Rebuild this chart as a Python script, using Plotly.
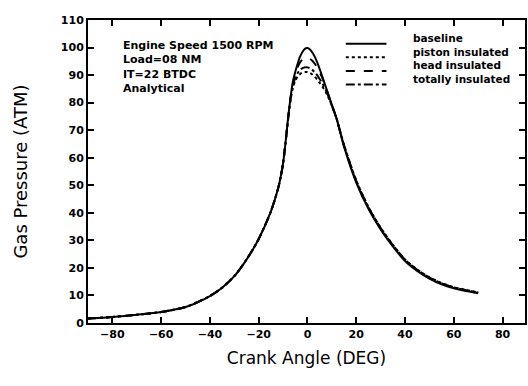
import plotly.graph_objects as go

angle = [-90, -80, -70, -60, -50, -40, -35, -30, -25, -20, -15, -12, -11, -10, -9, -8, -7, -6, -5, -4, -3, -2, -1,
         0, 1, 2, 3, 4, 5, 6, 8, 10, 12, 15, 20, 25, 30, 35, 40, 45, 50, 55, 60, 65, 70]

baseline = [1.6, 2.2, 3.0, 4.0, 5.8, 9.8, 12.8, 17.0, 23.0, 30.5, 40.5, 49.0, 53.0, 58.0, 65.5, 74.0, 81.5, 87.5, 91.2, 94.2, 96.8, 98.5, 99.6,
            99.8, 99.3, 98.2, 96.6, 94.6, 92.2, 89.6, 84.5, 79.2, 74.0, 64.0, 51.0, 41.5, 34.0, 27.8, 22.5, 18.9, 16.1, 14.0, 12.6, 11.6, 10.8]

piston_insulated = [1.6, 2.2, 3.0, 4.0, 5.8, 9.8, 12.8, 17.0, 23.0, 30.5, 40.5, 49.0, 53.0, 58.0, 65.3, 73.6, 80.6, 85.3, 88.0, 89.5, 90.4, 90.9, 91.1,
                    91.1, 90.8, 90.2, 89.4, 88.4, 87.2, 86.0, 83.0, 78.8, 74.0, 64.6, 51.8, 42.1, 34.6, 28.4, 23.1, 19.4, 16.6, 14.5, 13.0, 12.0, 11.1]

head_insulated = [1.6, 2.2, 3.0, 4.0, 5.8, 9.8, 12.8, 17.0, 23.0, 30.5, 40.5, 49.0, 53.0, 58.0, 65.5, 73.8, 81.3, 87.0, 90.5, 93.0, 94.7, 95.7, 96.1,
                  96.2, 95.9, 95.2, 94.1, 92.6, 90.9, 89.2, 84.2, 79.2, 74.0, 64.3, 51.4, 41.8, 34.3, 28.1, 22.8, 19.2, 16.4, 14.3, 12.8, 11.8, 11.0]

totally_insulated = [1.6, 2.2, 3.0, 4.0, 5.8, 9.8, 12.8, 17.0, 23.0, 30.5, 40.5, 49.0, 53.0, 58.0, 65.4, 73.7, 81.0, 86.0, 89.0, 90.8, 91.9, 92.5, 92.8,
                     92.8, 92.5, 91.9, 91.0, 89.9, 88.6, 87.2, 83.6, 79.0, 74.0, 64.5, 51.6, 42.0, 34.5, 28.3, 23.0, 19.3, 16.5, 14.4, 12.9, 11.9, 11.1]

series_names = ["baseline", "piston insulated", "head insulated", "totally insulated"]
series_values = [baseline, piston_insulated, head_insulated, totally_insulated]
series_dash = ["solid", "dot", "dash", "dashdot"]

x_ticks = [-80, -60, -40, -20, 0, 20, 40, 60, 80]
y_ticks = [0, 10, 20, 30, 40, 50, 60, 70, 80, 90, 100, 110]

annotation_lines = ["Engine Speed 1500 RPM", "Load=08 NM", "IT=22 BTDC", "Analytical"]

# legend layout (paper coordinates)
LEG_LINE_X0, LEG_LINE_X1, LEG_TEXT_X = 0.59, 0.683, 0.74
LEG_TOP, LEG_STEP = 0.94, 0.045

fig = go.Figure()
for name, vals, dash in zip(series_names, series_values, series_dash):
    fig.add_trace(go.Scatter(x=angle, y=vals, mode="lines", name=name, showlegend=False,
                             line=dict(color="black", width=2, dash=dash, shape="spline", smoothing=0.7)))

shapes = []
annotations = []
for i, (name, dash) in enumerate(zip(series_names, series_dash)):
    yy = LEG_TOP - i * LEG_STEP
    shapes.append(dict(type="line", xref="paper", yref="paper", x0=LEG_LINE_X0, x1=LEG_LINE_X1,
                       y0=yy - 0.018, y1=yy - 0.018, line=dict(color="black", width=2, dash=dash)))
    annotations.append(dict(xref="paper", yref="paper", x=LEG_TEXT_X, y=yy, xanchor="left", yanchor="middle",
                            showarrow=False, text=name,
                            font=dict(family="DejaVu Sans", size=10.5, color="black", weight="bold")))

annotations.append(dict(xref="paper", yref="paper", x=0.075, y=0.943, xanchor="left", yanchor="top",
                        align="left", showarrow=False,
                        text="<br>".join(annotation_lines),
                        font=dict(family="DejaVu Sans", size=11, color="black", weight="bold")))

tickfont = dict(family="DejaVu Sans", size=11, color="black", weight="bold")

fig.update_layout(
    width=528, height=386,
    margin=dict(l=88, r=1, t=20, b=63),
    paper_bgcolor="white", plot_bgcolor="white",
    font=dict(family="DejaVu Sans", color="black"),
    showlegend=False,
    xaxis=dict(range=[-90, 89.2], tickvals=x_ticks, ticktext=[str(v).replace("-", "−") for v in x_ticks],
               ticks="inside", ticklen=6, tickwidth=1.5, tickcolor="black",
               showline=True, linecolor="black", linewidth=2, mirror="ticks",
               showgrid=False, zeroline=False, tickfont=tickfont,
               title=dict(text="Crank Angle (DEG)", font=dict(family="DejaVu Sans", size=17, color="black"), standoff=12)),
    yaxis=dict(range=[0, 110], tickvals=y_ticks,
               ticks="inside", ticklen=6, tickwidth=1.5, tickcolor="black",
               showline=True, linecolor="black", linewidth=2, mirror="ticks",
               showgrid=False, zeroline=False, tickfont=tickfont,
               title=dict(text="Gas Pressure (ATM)", font=dict(family="DejaVu Sans", size=18, color="black"), standoff=29)),
    shapes=shapes,
    annotations=annotations,
)

fig.write_html("out.html", post_script="document.body.style.margin='0';", config={"displayModeBar": False})
